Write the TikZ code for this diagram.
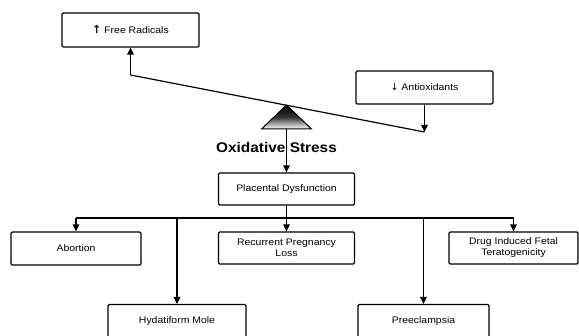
\documentclass[tikz,border=0pt]{standalone}
\usepackage{fontspec}
\setmainfont{Liberation Sans}[FakeStretch=1.1]
\newfontfamily\symfont{DejaVu Sans}
\usetikzlibrary{arrows.meta}
\tikzset{
  box/.style={draw=black, line width=1.2pt, rounded corners=1.2pt, fill=white,
    align=center, font=\fontsize{9.5}{11}\selectfont, inner sep=1pt},
  arr/.style={line width=1.2pt, -{Triangle[width=6.5pt,length=7pt]}},
  ln/.style={line width=1.2pt},
}
\begin{document}
\begin{tikzpicture}[x=1pt,y=-1pt]
\useasboundingbox (0,0) rectangle (579,336);
\clip (0,0) rectangle (579,336);
% boxes
\node[box, minimum width=137pt, minimum height=34pt] (fr) at (130.5,30) {{\symfont\bfseries\fontsize{11}{11}\selectfont ↑} Free Radicals};
\node[box, minimum width=137pt, minimum height=33pt] (ao) at (424.5,87.5) {{\symfont ↓} Antioxidants};
\node[box, minimum width=136pt, minimum height=32pt] (pd) at (286.5,189) {Placental Dysfunction};
\node[box, minimum width=130pt, minimum height=33pt] (ab) at (76,248.5) {Abortion};
\node[box, minimum width=136pt, minimum height=32pt] (rpl) at (286.5,248) {Recurrent Pregnancy\\Loss};
\node[box, minimum width=129pt, minimum height=32pt] (dift) at (513.5,248) {Drug Induced Fetal\\Teratogenicity};
\node[box, minimum width=138pt, minimum height=33pt, anchor=north] (hm) at (177,304) {Hydatiform Mole};
\node[box, minimum width=131pt, minimum height=33pt, anchor=north] (pe) at (423.5,304) {Preeclampsia};
% balance
\coordinate (L) at (130.5,75);
\coordinate (R) at (424.5,132);
\coordinate (apex) at (286.5,105);
\coordinate (base) at (286.5,129);
\draw[ln] (L) -- (R);
\draw[arr] (L) -- (fr.south);
\draw[arr] (ao.south) -- (R);
\path[draw=black, line width=1pt, top color=black, bottom color=white, middle color=black!80]
  (apex) -- (261.5,129) -- (311.5,129) -- cycle;
\node[font=\fontsize{14}{16}\bfseries\selectfont, inner sep=0pt] (os) at (276.5,147) {Oxidative Stress};
\draw[arr] (base) -- (pd.north);
% distribution bus
\coordinate (bus) at (286.5,218);
\coordinate (busL) at (76,218);
\coordinate (busR) at (513.5,218);
\draw[ln] (pd.south) -- (bus);
\draw[ln] (busL) -- (busR);
\draw[arr] (busL) -- (ab.north);
\draw[arr] (bus) -- (rpl.north);
\draw[arr] (busR) -- (dift.north);
\draw[arr] (hm.north |- bus) -- (hm.north);
\draw[arr] (pe.north |- bus) -- (pe.north);
\end{tikzpicture}
\end{document}
